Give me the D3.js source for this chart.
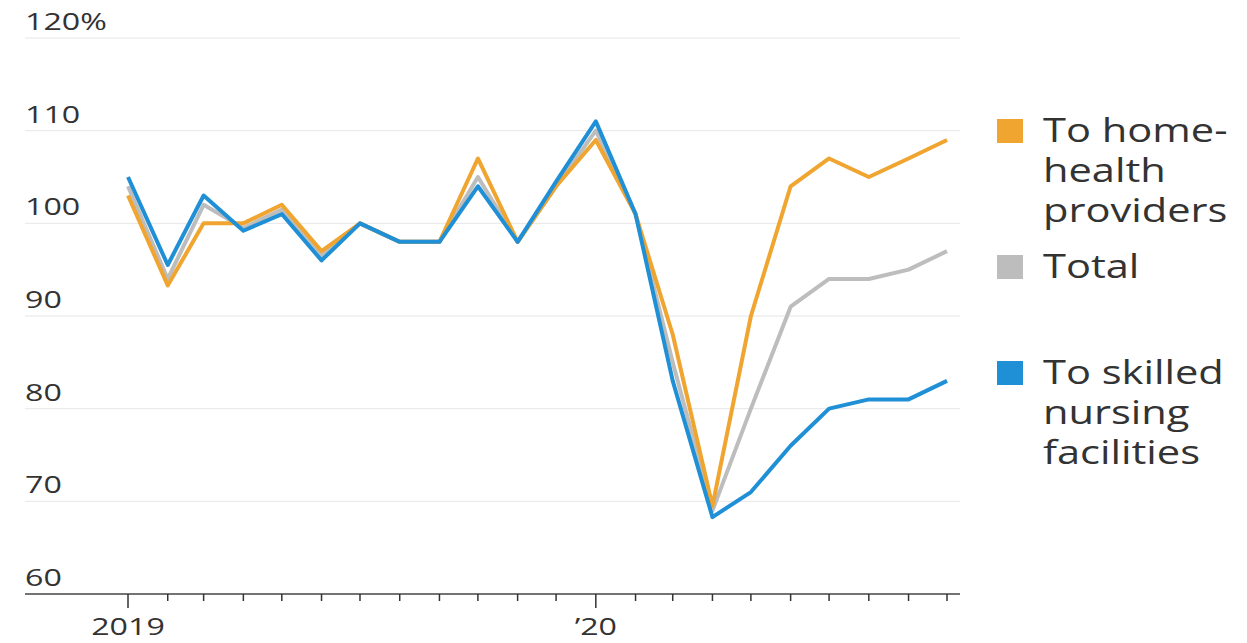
<!DOCTYPE html>
<html><head><meta charset="utf-8">
<script src="https://cdn.jsdelivr.net/npm/d3@7"></script>
<style>body{margin:0;background:#fff}text{font-family:"Open Sans",sans-serif}</style>
</head><body><script>
const months = d3.range(22).map(i => new Date(2019, i, 1));
const homeHealth = [103, 93.3, 100, 100, 102, 97, 100, 98, 98, 107, 98, 104, 109, 101, 88, 69.5, 90, 104, 107, 105, 107, 109];
const total = [104, 94, 102, 99.5, 101.5, 96.5, 100, 98, 98, 105, 98, 104, 110, 101, 85, 69, 80, 91, 94, 94, 95, 97];
const skilled = [105, 95.5, 103, 99.2, 101, 96, 100, 98, 98, 104, 98, 104.5, 111, 101, 83, 68.3, 71, 76, 80, 81, 81, 83];
const yTicks = [60, 70, 80, 90, 100, 110, 120];
const series = [
  {name: 'Total', values: total, color: '#bdbdbd'},
  {name: 'home', values: homeHealth, color: '#f0a530'},
  {name: 'skilled', values: skilled, color: '#1f8fd6'}
];
const legend = [
  {lines: ['To home-', 'health', 'providers'], color: '#f0a530', y: 130},
  {lines: ['Total'], color: '#bdbdbd', y: 266},
  {lines: ['To skilled', 'nursing', 'facilities'], color: '#1f8fd6', y: 372}
];

const width = 1247, height = 643;
const svg = d3.select('body').append('svg').attr('width', width).attr('height', height);
const x = d3.scaleTime().domain([months[0], months[21]]).range([128, 947]);
const y = d3.scaleLinear().domain([60, 120]).range([594, 38]);

// stretched text helper (reference is horizontally stretched)
const stretch = (sel, sx, anchorX) => sel.attr('transform', `translate(${anchorX},0) scale(${sx},1) translate(${-anchorX},0)`);

svg.selectAll('.grid').data(yTicks).join('line')
  .attr('x1', 25).attr('x2', 960)
  .attr('y1', d => y(d)).attr('y2', d => y(d))
  .attr('stroke', d => d === 60 ? '#444' : '#e6e6e6').attr('stroke-width', d => d === 60 ? 1.5 : 1);
svg.selectAll('.ylab').data(yTicks).join('text')
  .attr('x', 25).attr('y', d => y(d) - 8)
  .attr('font-size', 23).attr('fill', '#333')
  .text(d => d === 120 ? '120%' : d)
  .call(stretch, 1.4, 25);

svg.selectAll('.tick').data(months).join('line')
  .attr('x1', d => x(d)).attr('x2', d => x(d))
  .attr('y1', 594).attr('y2', d => d.getMonth() === 0 ? 608 : 601)
  .attr('stroke', '#333').attr('stroke-width', 1.5);
svg.selectAll('.xlab').data(months.filter(d => d.getMonth() === 0)).join('text')
  .attr('x', d => x(d)).attr('y', 635).attr('text-anchor', 'middle')
  .attr('font-size', 23).attr('fill', '#333')
  .text(d => d.getFullYear() === 2019 ? '2019' : '\u201920')
  .each(function (d) { stretch(d3.select(this), 1.4, x(d)); });

const line = d3.line().x((d, i) => x(months[i])).y(d => y(d));
svg.selectAll('.series').data(series).join('path')
  .attr('d', d => line(d.values)).attr('fill', 'none')
  .attr('stroke', d => d.color).attr('stroke-width', 4).attr('stroke-linejoin', 'round');

const lg = svg.selectAll('.lg').data(legend).join('g');
lg.append('rect').attr('x', 997).attr('y', d => d.y - 11).attr('width', 26).attr('height', 24).attr('fill', d => d.color);
lg.each(function (d) {
  d3.select(this).selectAll('text').data(d.lines).join('text')
    .attr('x', 1043).attr('y', (t, i) => d.y + 12 + i * 40)
    .attr('font-size', 32).attr('fill', '#333').text(t => t)
    .call(stretch, 1.3, 1043);
});
</script></body></html>
